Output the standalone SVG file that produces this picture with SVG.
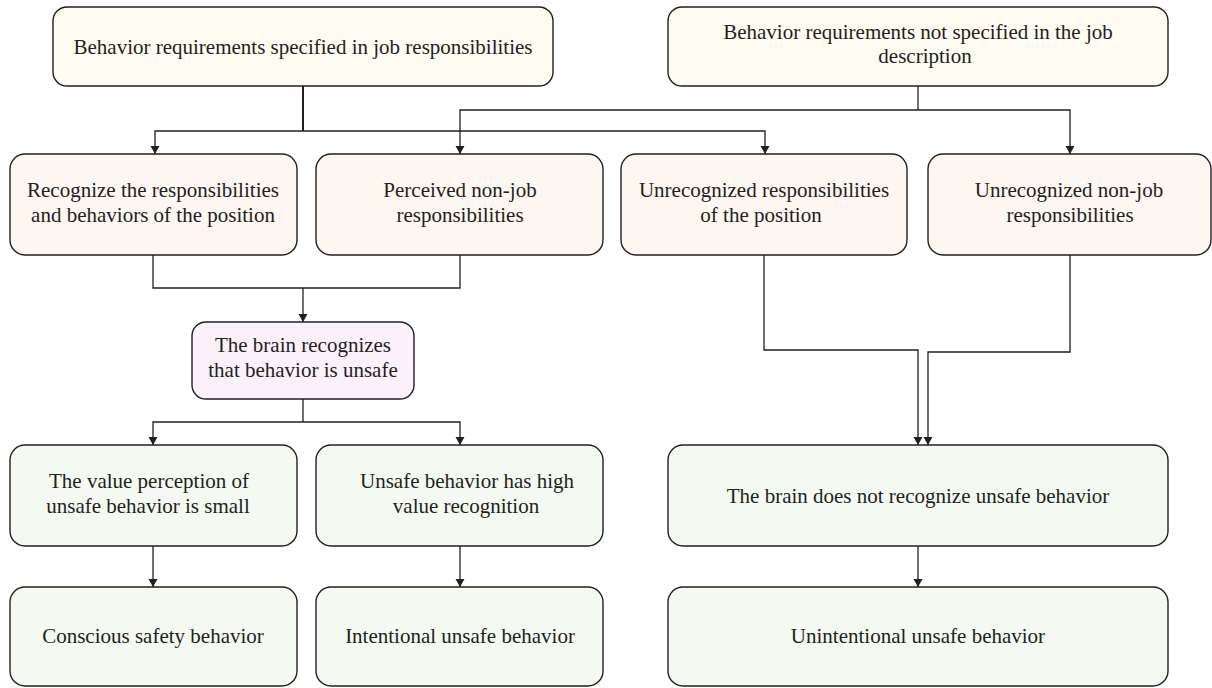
<svg xmlns="http://www.w3.org/2000/svg" width="1212" height="688" viewBox="0 0 1212 688">
<defs>
<marker id="arr" markerUnits="userSpaceOnUse" markerWidth="9" markerHeight="10" refX="8" refY="4.5" orient="auto">
<path d="M0,0 L8,4.5 L0,9 z" fill="#231f20"/>
</marker>
<style>
.box{stroke:#231f20;stroke-width:1.4}
.cream{fill:#fefbf0}
.peach{fill:#fdf6f1}
.pink{fill:#fcf1fb}
.green{fill:#f4faf1}
text{font-family:"Liberation Serif","Times New Roman",serif;font-size:21px;fill:#231f20;text-anchor:middle}
.c{fill:none;stroke:#231f20;stroke-width:1.3}
.a{marker-end:url(#arr)}
</style>
</defs>
<rect width="1212" height="688" fill="#ffffff"/>
<g id="connectors">
<path class="c" d="M303,86 V131" style="stroke-width:2"/>
<path class="c a" d="M303,131 H155 V154"/>
<path class="c a" d="M303,131 H765 V154"/>
<path class="c" d="M918,86 V110"/>
<path class="c a" d="M918,110 H460 V154"/>
<path class="c a" d="M918,110 H1070 V154"/>
<path class="c" d="M153,255 V288 H460 V255"/>
<path class="c a" d="M303,288 V322"/>
<path class="c" d="M303,399 V422"/>
<path class="c a" d="M303,422 H153 V445"/>
<path class="c a" d="M303,422 H460 V445"/>
<path class="c a" d="M153,546 V587"/>
<path class="c a" d="M460,546 V587"/>
<path class="c a" d="M764,255 V350 H918 V445"/>
<path class="c a" d="M1070,255 V352 H928 V445"/>
<path class="c a" d="M918,546 V587"/>
</g>
<g id="n1"><rect class="box cream" x="53" y="7" width="500" height="79" rx="14"/><text x="303" y="53.5">Behavior requirements specified in job responsibilities</text></g>
<g id="n2"><rect class="box cream" x="668" y="7" width="500" height="79" rx="14"/><text x="918" y="38.5">Behavior requirements not specified in the job</text><text x="925" y="63">description</text></g>
<g id="n3"><rect class="box peach" x="10" y="154" width="287" height="101" rx="15"/><text x="153" y="197">Recognize the responsibilities</text><text x="153" y="221.5">and behaviors of the position</text></g>
<g id="n4"><rect class="box peach" x="316" y="154" width="287" height="101" rx="15"/><text x="460" y="197">Perceived non-job</text><text x="460" y="221.5">responsibilities</text></g>
<g id="n5"><rect class="box peach" x="621" y="154" width="286" height="101" rx="15"/><text x="764" y="197">Unrecognized responsibilities</text><text x="761" y="221.5">of the position</text></g>
<g id="n6"><rect class="box peach" x="928" y="154" width="283" height="101" rx="15"/><text x="1069" y="197">Unrecognized non-job</text><text x="1070" y="221.5">responsibilities</text></g>
<g id="n7"><rect class="box pink" x="192" y="322" width="222" height="77" rx="14"/><text x="303" y="352">The brain recognizes</text><text x="303" y="376.5">that behavior is unsafe</text></g>
<g id="n8"><rect class="box green" x="10" y="445" width="287" height="101" rx="15"/><text x="149" y="488">The value perception of</text><text x="148" y="512.5">unsafe behavior is small</text></g>
<g id="n9"><rect class="box green" x="316" y="445" width="287" height="101" rx="15"/><text x="467" y="488">Unsafe behavior has high</text><text x="466" y="512.5">value recognition</text></g>
<g id="n10"><rect class="box green" x="668" y="445" width="500" height="101" rx="15"/><text x="918" y="502.5">The brain does not recognize unsafe behavior</text></g>
<g id="n11"><rect class="box green" x="10" y="587" width="287" height="99" rx="15"/><text x="153" y="643">Conscious safety behavior</text></g>
<g id="n12"><rect class="box green" x="316" y="587" width="287" height="99" rx="15"/><text x="460" y="643">Intentional unsafe behavior</text></g>
<g id="n13"><rect class="box green" x="668" y="587" width="500" height="99" rx="15"/><text x="918" y="643">Unintentional unsafe behavior</text></g>
</svg>
